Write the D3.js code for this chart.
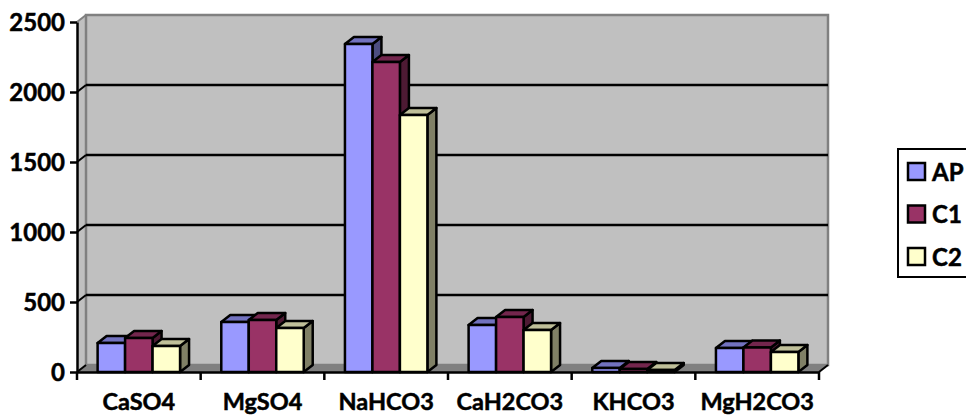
<!DOCTYPE html>
<html>
<head>
<meta charset="utf-8">
<script src="https://cdn.jsdelivr.net/npm/d3@7"></script>
<style>
  html, body { margin: 0; background: #fff; overflow: hidden; }
  text { font-family: Lato, "Open Sans", sans-serif; font-weight: 700; fill: #000; stroke: #000; stroke-width: 0.5px; }
</style>
</head>
<body>
<script>
const categories = ['CaSO4', 'MgSO4', 'NaHCO3', 'CaH2CO3', 'KHCO3', 'MgH2CO3'];
const seriesNames = ['AP', 'C1', 'C2'];
const apValues = [207, 357, 2343, 336, 28, 171];
const c1Values = [243, 371, 2214, 393, 21, 175];
const c2Values = [186, 314, 1836, 300, 14, 143];
const yTicks = [0, 500, 1000, 1500, 2000, 2500];

const seriesValues = [apValues, c1Values, c2Values];
const colors = [
  { front: '#9999ff', top: '#7272bf', side: '#4d4d80' },
  { front: '#993366', top: '#73264d', side: '#4d1a33' },
  { front: '#ffffcc', top: '#bfbf99', side: '#808066' }
];

const width = 966, height = 415;
const plotLeft = 77, plotRight = 819, plotTop = 22, plotBottom = 372;
// decalage de la profondeur 3D
const dx = 9, dy = -7;

const x = d3.scaleBand().domain(categories).range([plotLeft, plotRight]);
const inner = d3.scaleBand().domain(seriesNames).range([0, x.bandwidth()]).paddingOuter(0.75).paddingInner(0);
const y = d3.scaleLinear().domain([0, 2500]).range([plotBottom, plotTop]);

const svg = d3.select('body').append('svg')
  .attr('width', width)
  .attr('height', height);

const poly = pts => pts.map(p => p.join(',')).join(' ');

// Mur gauche, mur du fond, sol
svg.append('polygon')
  .attr('points', poly([[plotLeft, plotTop], [plotLeft + dx, plotTop + dy], [plotLeft + dx, plotBottom + dy], [plotLeft, plotBottom]]))
  .attr('fill', '#c0c0c0');
svg.append('rect')
  .attr('x', plotLeft + dx).attr('y', plotTop + dy)
  .attr('width', plotRight - plotLeft).attr('height', plotBottom - plotTop)
  .attr('fill', '#c0c0c0')
  .attr('stroke', '#808080')
  .attr('stroke-width', 2.5);
svg.append('polygon')
  .attr('points', poly([[plotLeft, plotBottom], [plotLeft + dx, plotBottom + dy], [plotRight + dx, plotBottom + dy], [plotRight, plotBottom]]))
  .attr('fill', '#808080');

// Quadrillage
yTicks.filter(d => d > 0 && d < 2500).forEach(d => {
  svg.append('line')
    .attr('x1', plotLeft + dx).attr('x2', plotRight + dx)
    .attr('y1', y(d) + dy).attr('y2', y(d) + dy)
    .attr('stroke', '#000').attr('stroke-width', 2.5);
});
yTicks.forEach(d => {
  svg.append('line')
    .attr('x1', plotLeft).attr('x2', plotLeft + dx)
    .attr('y1', y(d)).attr('y2', y(d) + dy)
    .attr('stroke', d === 2500 ? '#808080' : '#000').attr('stroke-width', 2);
});
svg.append('line')
  .attr('x1', plotRight).attr('x2', plotRight + dx)
  .attr('y1', plotBottom).attr('y2', plotBottom + dy)
  .attr('stroke', '#000').attr('stroke-width', 2);

// Axes
const yAxis = svg.append('g')
  .attr('transform', `translate(${plotLeft}, 0)`)
  .call(d3.axisLeft(y).tickValues(yTicks).tickFormat(d3.format('d')).tickSize(7).tickSizeOuter(0).tickPadding(5));
const xAxis = svg.append('g')
  .attr('transform', `translate(0, ${plotBottom})`)
  .call(d3.axisBottom(x).tickSize(0).tickSizeOuter(0).tickPadding(21));

svg.selectAll('.domain, .tick line')
  .attr('stroke', '#000')
  .attr('stroke-width', 2.5);
yAxis.selectAll('text').style('font-size', '24px').attr('dy', '0.36em');
xAxis.selectAll('text').style('font-size', '23.5px').attr('dy', '0.71em');

// Petits traits aux limites des categories
categories.map(c => x(c)).concat(plotRight).forEach(d => {
  svg.append('line')
    .attr('x1', d).attr('x2', d)
    .attr('y1', plotBottom).attr('y2', plotBottom + 8)
    .attr('stroke', '#000').attr('stroke-width', 2.5);
});

// Barres 3D
const bars = svg.append('g')
  .attr('stroke', '#000')
  .attr('stroke-width', 2.5)
  .attr('stroke-linejoin', 'round');

categories.forEach((cat, i) => {
  seriesNames.forEach((name, s) => {
    const x0 = x(cat) + inner(name);
    const x1 = x0 + inner.bandwidth();
    const y0 = y(seriesValues[s][i]);
    const g = bars.append('g');
    g.append('polygon')
      .attr('points', poly([[x1, y0], [x1 + dx, y0 + dy], [x1 + dx, plotBottom + dy], [x1, plotBottom]]))
      .attr('fill', colors[s].side);
    g.append('polygon')
      .attr('points', poly([[x0, y0], [x0 + dx, y0 + dy], [x1 + dx, y0 + dy], [x1, y0]]))
      .attr('fill', colors[s].top);
    g.append('rect')
      .attr('x', x0).attr('y', y0)
      .attr('width', x1 - x0).attr('height', plotBottom - y0)
      .attr('fill', colors[s].front);
  });
});

// Legende
const legendY = d3.scalePoint().domain(seriesNames).range([172, 257]);
svg.append('rect')
  .attr('x', 898).attr('y', 149)
  .attr('width', 80).attr('height', 128)
  .attr('fill', '#fff')
  .attr('stroke', '#000')
  .attr('stroke-width', 2);
seriesNames.forEach((name, s) => {
  svg.append('rect')
    .attr('x', 908).attr('y', legendY(name) - 9)
    .attr('width', 17).attr('height', 17)
    .attr('fill', colors[s].front)
    .attr('stroke', '#000')
    .attr('stroke-width', 2.5);
  svg.append('text')
    .attr('x', 932).attr('y', legendY(name))
    .attr('dy', '0.36em')
    .style('font-size', '24px')
    .text(name);
});
</script>
</body>
</html>
